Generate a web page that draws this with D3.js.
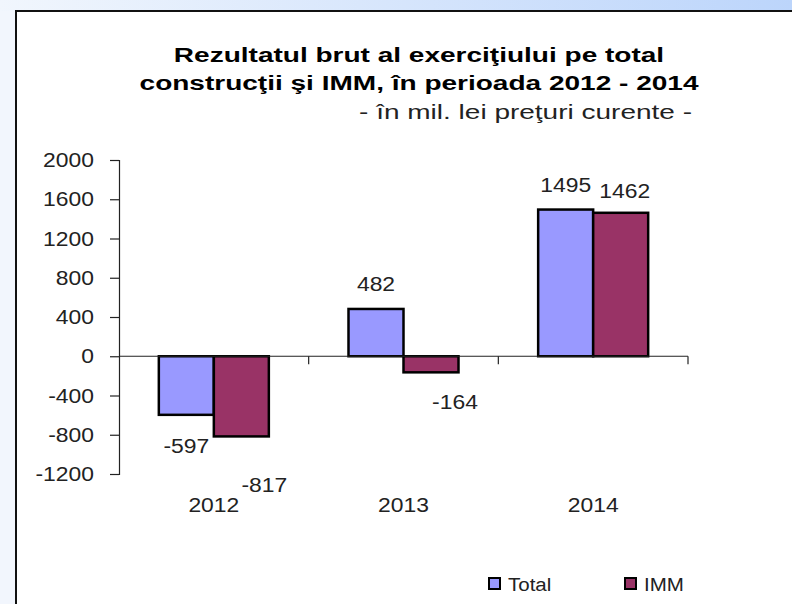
<!DOCTYPE html>
<html>
<head>
<meta charset="utf-8">
<script src="https://cdn.jsdelivr.net/npm/d3@7"></script>
<style>
  body { margin: 0; background: #fff; }
  svg { display: block; }
</style>
</head>
<body>
<div id="chart"></div>
<script>
// data
const years = ["2012", "2013", "2014"]
const seriesNames = ["Total", "IMM"]
const totalValues = [-597, 482, 1495]
const immValues = [-817, -164, 1462]
const yTicks = [-1200, -800, -400, 0, 400, 800, 1200, 1600, 2000]
const colors = ["#9999FF", "#993366"]

const W = 792, H = 604
const margin = {top: 160, right: 104, bottom: 130, left: 119}
// the original text is drawn a bit wider than Arial
const numStretch = 1.09
const numSize = 21
const titleStretch = 1.335

const svg = d3.select("#chart").append("svg")
    .attr("width", W)
    .attr("height", H)
    .style("font-family", "Arial, 'Liberation Sans', sans-serif")

// page background (gradient strip top, pale left)
const defs = svg.append("defs")
const grad = defs.append("linearGradient").attr("id", "topGrad")
grad.append("stop").attr("offset", "0%").attr("stop-color", "#f1f6fd")
grad.append("stop").attr("offset", "100%").attr("stop-color", "#bcd5fb")
svg.append("rect").attr("width", W).attr("height", H).attr("fill", "#f2f6fd")
svg.append("rect").attr("width", W).attr("height", 11).attr("fill", "url(#topGrad)")

// chart frame
svg.append("rect")
    .attr("x", 16).attr("y", 11)
    .attr("width", W + 10).attr("height", H + 10)
    .attr("fill", "#fff")
    .attr("stroke", "#111")
    .attr("stroke-width", 2)

function stretched(parent, tx, ty, sx) {
    return parent.append("text")
        .attr("transform", `translate(${tx},${ty}) scale(${sx},1)`)
}

// title
stretched(svg, 419, 62, titleStretch)
    .attr("text-anchor", "middle")
    .attr("font-size", 21).attr("font-weight", "bold")
    .attr("fill", "#000")
    .text("Rezultatul brut al exerciţiului pe total")
stretched(svg, 419, 90, titleStretch)
    .attr("text-anchor", "middle")
    .attr("font-size", 21).attr("font-weight", "bold")
    .attr("fill", "#000")
    .text("construcţii şi IMM, în perioada 2012 - 2014")
stretched(svg, 692, 119, 1.4)
    .attr("text-anchor", "end")
    .attr("font-size", 20)
    .attr("fill", "#222")
    .text("- în mil. lei preţuri curente -")

const x = d3.scaleBand()
    .domain(years)
    .range([margin.left, W - margin.right])
    .paddingInner(0.42)
    .paddingOuter(0.21)

const xs = d3.scaleBand()
    .domain(seriesNames)
    .range([0, x.bandwidth()])

const y = d3.scaleLinear()
    .domain([-1200, 2000])
    .range([H - margin.bottom, margin.top])

// y axis
const yAxis = svg.append("g")
    .attr("transform", `translate(${margin.left},0)`)
    .call(d3.axisLeft(y).tickValues(yTicks).tickFormat(d => String(d)).tickSize(9).tickSizeOuter(9))
yAxis.select(".domain").attr("stroke", "#222").attr("stroke-width", 1.2)
yAxis.selectAll(".tick line").attr("stroke", "#222").attr("stroke-width", 1.2)
yAxis.selectAll(".tick text")
    .attr("x", 0)
    .attr("transform", `translate(-25,0) scale(${numStretch},1)`)
    .attr("font-size", numSize).attr("fill", "#222")
    .attr("font-family", "Arial, 'Liberation Sans', sans-serif")

// bars
const rows = years.map((yr, i) => ({year: yr, values: [totalValues[i], immValues[i]]}))

const groups = svg.append("g").selectAll("g")
    .data(rows)
    .join("g")
    .attr("transform", d => `translate(${x(d.year)},0)`)

groups.selectAll("rect")
    .data(d => d.values.map((v, j) => ({key: seriesNames[j], value: v, idx: j})))
    .join("rect")
    .attr("x", d => xs(d.key))
    .attr("y", d => y(Math.max(0, d.value)))
    .attr("width", xs.bandwidth())
    .attr("height", d => Math.abs(y(d.value) - y(0)))
    .attr("fill", d => colors[d.idx])
    .attr("stroke", "#000")
    .attr("stroke-width", 2.5)

// x axis line at zero + category separators
const xAxis = svg.append("g")
    .attr("transform", `translate(0,${y(0)})`)
xAxis.append("line")
    .attr("x1", margin.left).attr("x2", W - margin.right)
    .attr("stroke", "#222").attr("stroke-width", 1.2)
const step = x.step()
const seps = years.map((yr, i) => margin.left + step * (i + 1))
xAxis.selectAll(".sep")
    .data(seps)
    .join("line")
    .attr("class", "sep")
    .attr("x1", d => d).attr("x2", d => d)
    .attr("y1", 0).attr("y2", 8)
    .attr("stroke", "#222").attr("stroke-width", 1.2)

// category labels at the bottom
const catG = svg.append("g")
years.forEach(yr => {
    stretched(catG, x(yr) + x.bandwidth() / 2, 512, numStretch)
        .attr("text-anchor", "middle")
        .attr("font-size", numSize).attr("fill", "#222")
        .text(yr)
})

// value labels (nudged like the original)
const labelNudge = [
    [{dx: 0, dy: 38}, {dx: 23, dy: 56}],
    [{dx: 0, dy: -18}, {dx: 24, dy: 37}],
    [{dx: 0, dy: -18}, {dx: 4, dy: -15}]
]
groups.each(function(d, i) {
    const g = d3.select(this)
    d.values.forEach((v, j) => {
        const n = labelNudge[i][j]
        stretched(g, xs(seriesNames[j]) + xs.bandwidth() / 2 + n.dx, y(v) + n.dy, numStretch)
            .attr("text-anchor", "middle")
            .attr("font-size", numSize).attr("fill", "#222")
            .text(v)
    })
})

// legend
const legend = svg.append("g")
    .selectAll("g")
    .data(seriesNames)
    .join("g")
    .attr("transform", (d, i) => `translate(${489 + i * 136},578)`)
legend.append("rect")
    .attr("width", 11).attr("height", 11)
    .attr("fill", (d, i) => colors[i])
    .attr("stroke", "#000").attr("stroke-width", 2)
legend.append("text")
    .attr("transform", "translate(19,13) scale(1.08,1)")
    .attr("font-size", 19).attr("fill", "#222")
    .text(d => d)
</script>
</body>
</html>
